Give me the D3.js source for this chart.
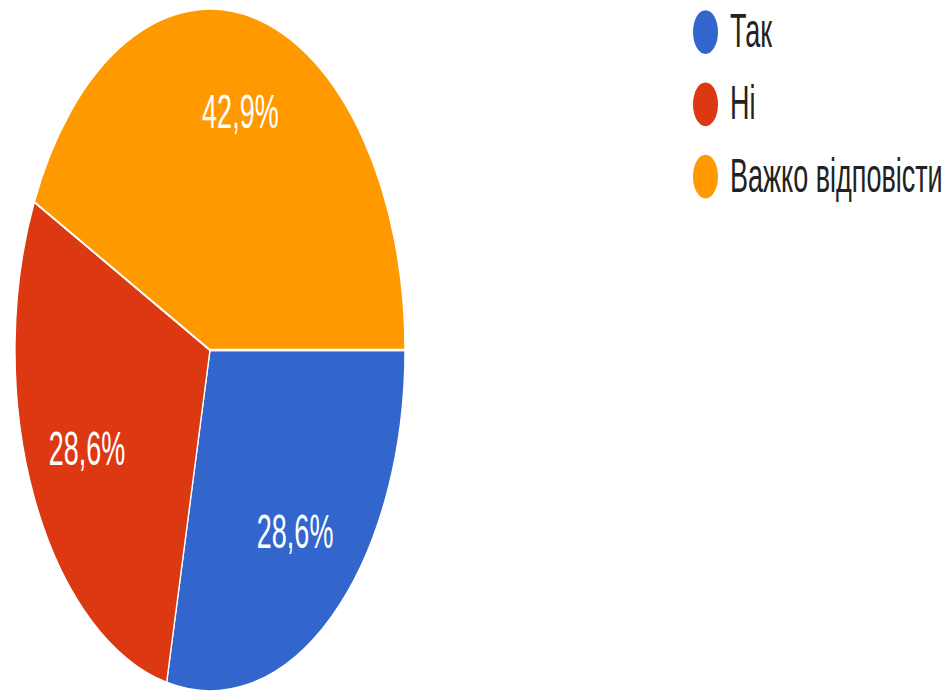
<!DOCTYPE html>
<html>
<head>
<meta charset="utf-8">
<script src="https://cdn.jsdelivr.net/npm/d3@7"></script>
<style>
  body { margin: 0; background: #fff; }
  svg { display: block; }
</style>
</head>
<body>
<div class="chart"></div>
<script>
var categories = ["Так", "Ні", "Важко відповісти"];
var percents = [28.6, 28.6, 42.9];
var colors = ["#3366cc", "#dc3912", "#ff9900"];

var width = 945, height = 691;
// the picture is stretched vertically, so draw everything in a squashed frame
var stretch = 1.75;

var svg = d3.select(".chart")
  .append("svg")
    .attr("width", width)
    .attr("height", height)
  .append("g")
    .attr("transform", "scale(1," + stretch + ")");

var radius = 195;
var pieG = svg.append("g")
  .attr("transform", "translate(210," + (350 / stretch) + ")");

var data = categories.map(function(c, i) {
  return {name: c, value: percents[i], color: colors[i]};
});

var pie = d3.pie()
  .sort(null)
  .value(function(d) { return d.value; })
  .startAngle(Math.PI / 2)
  .endAngle(Math.PI / 2 + 2 * Math.PI);

var arc = d3.arc().innerRadius(0).outerRadius(radius);
var labelArc = d3.arc().innerRadius(radius * 0.4).outerRadius(radius);

var slices = pie(data);

pieG.selectAll("path")
  .data(slices)
  .enter()
  .append("path")
  .attr("d", arc)
  .attr("fill", function(d) { return d.data.color; })
  .attr("stroke", "#fff")
  .attr("stroke-width", 1.3);

pieG.selectAll("text")
  .data(slices)
  .enter()
  .append("text")
  .attr("transform", function(d) { return "translate(" + labelArc.centroid(d) + ")"; })
  .attr("dy", "0.24em")
  .attr("text-anchor", "middle")
  .attr("fill", "#fff")
  .style("font-family", "'Liberation Sans', Arial, sans-serif")
  .style("font-size", "27px")
  .text(function(d) { return d3.format(".1f")(d.data.value).replace(".", ",") + "%"; });

// legend
var legend = svg.append("g")
  .attr("transform", "translate(705.5,18.3)");

var item = legend.selectAll("g")
  .data(data)
  .enter()
  .append("g")
  .attr("transform", function(d, i) { return "translate(0," + (i * 41.3) + ")"; });

item.append("circle")
  .attr("r", 12.5)
  .attr("fill", function(d) { return d.color; });

item.append("text")
  .attr("x", 24.5)
  .attr("y", 8.6)
  .attr("fill", "#222")
  .style("font-family", "'Liberation Sans', Arial, sans-serif")
  .style("font-size", "27px")
  .text(function(d) { return d.name; });
</script>
</body>
</html>
